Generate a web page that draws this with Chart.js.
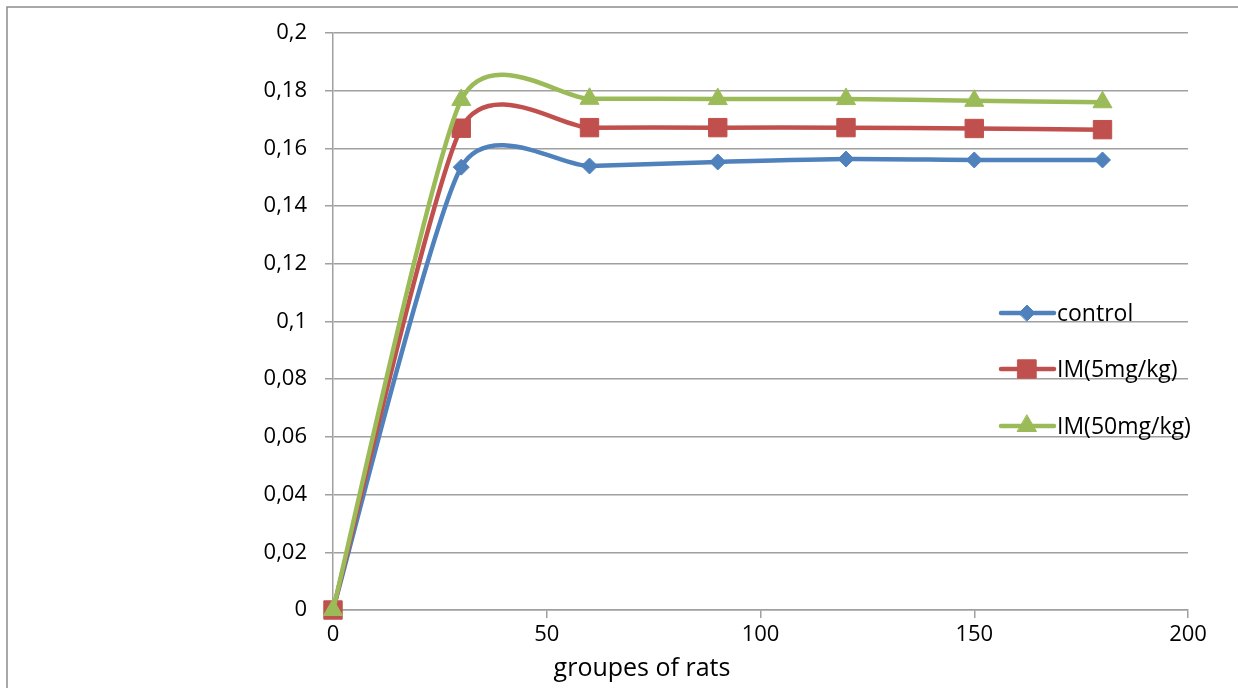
<!DOCTYPE html>
<html>
<head>
<meta charset="utf-8">
<script src="https://cdn.jsdelivr.net/npm/chart.js@4/dist/chart.umd.min.js"></script>
<style>
  html, body { margin: 0; padding: 0; background: #fff; }
  #wrap { width: 1238px; height: 688px; position: relative; }
</style>
</head>
<body>
<div id="wrap"><canvas id="chart" width="1238" height="688"></canvas></div>
<script>
const days = [0, 30, 60, 90, 120, 150, 180];
const control = [0, 0.1535, 0.1539, 0.1553, 0.1563, 0.156, 0.156];
const im5 = [0, 0.167, 0.1672, 0.1672, 0.1672, 0.1669, 0.1665];
const im50 = [0, 0.1768, 0.1772, 0.1771, 0.1771, 0.1765, 0.176];
const seriesNames = ["control", "IM(5mg/kg)", "IM(50mg/kg)"];
const xTitle = "groupes of rats";

const font = "'Open Sans', sans-serif";
const colors = ["#4F81BD", "#C0504D", "#9BBB59"];
const styles = [
  { pointStyle: "rectRot", radius: 8 },
  { pointStyle: "rect", radius: 13 },
  { pointStyle: "triangle", radius: 11 },
];

function points(vals) {
  return days.map((d, i) => ({ x: d, y: vals[i] }));
}

const datasets = [control, im5, im50].map((vals, i) => ({
  label: seriesNames[i],
  data: points(vals),
  order: 2 - i, // later series on top, like excel
  borderColor: colors[i],
  backgroundColor: colors[i],
  borderWidth: 4.5,
  tension: 0.4,
  clip: false,
  pointStyle: styles[i].pointStyle,
  pointRadius: styles[i].radius,
  pointBorderWidth: 1,
  pointBackgroundColor: colors[i],
  pointBorderColor: colors[i],
}));

// Office-style smoothing: uniform catmull-rom tangents instead of chart.js's weighted ones
const smooth = {
  id: "smooth",
  beforeDatasetsDraw(chart) {
    const k = 0.11;
    chart.data.datasets.forEach((ds, di) => {
      const meta = chart.getDatasetMeta(di);
      meta.dataset.updateControlPoints(chart.chartArea, "x");
      const pts = meta.data;
      const n = pts.length;
      for (let i = 0; i < n; i++) {
        const p = pts[i];
        const prev = pts[Math.max(i - 1, 0)];
        const next = pts[Math.min(i + 1, n - 1)];
        const tx = (next.x - prev.x) * k;
        const ty = (next.y - prev.y) * k;
        p.cp1x = p.x - tx;
        p.cp1y = p.y - ty;
        p.cp2x = p.x + tx;
        p.cp2y = p.y + ty;
      }
    });
  },
};

// frame, legend and x title, drawn by hand like the original
const extras = {
  id: "extras",
  beforeDraw(chart) {
    const ctx = chart.ctx;
    ctx.save();
    ctx.strokeStyle = "#8c8c8c";
    ctx.lineWidth = 1.5;
    ctx.beginPath();
    ctx.moveTo(7, 700);
    ctx.lineTo(7, 7);
    ctx.lineTo(1250, 7);
    ctx.stroke();
    ctx.restore();
  },
  afterDatasetsDraw(chart) {
    const ctx = chart.ctx;
    ctx.save();
    const rows = [313, 369, 426];
    seriesNames.forEach((name, i) => {
      const y = rows[i];
      ctx.strokeStyle = colors[i];
      ctx.lineWidth = 4.5;
      ctx.lineCap = "round";
      ctx.beginPath();
      ctx.moveTo(1001, y);
      ctx.lineTo(1054, y);
      ctx.stroke();
      ctx.fillStyle = colors[i];
      ctx.lineWidth = 1;
      Chart.helpers.drawPoint(ctx, {
        pointStyle: styles[i].pointStyle,
        radius: styles[i].radius,
        rotation: 0,
        borderWidth: 1,
      }, 1027, y);
      ctx.fillStyle = "#000";
      ctx.font = "23px " + font;
      ctx.textBaseline = "middle";
      ctx.textAlign = "left";
      ctx.fillText(name, 1057, y + 1);
    });
    ctx.font = "25px " + font;
    ctx.textAlign = "center";
    ctx.textBaseline = "middle";
    ctx.fillStyle = "#000";
    ctx.fillText(xTitle, 642, 669);
    ctx.restore();
  },
};

new Chart(document.getElementById("chart").getContext("2d"), {
  type: "line",
  data: { datasets },
  plugins: [smooth, extras],
  options: {
    responsive: false,
    animation: false,
    layout: { padding: { top: 33, right: 50, left: 0, bottom: 0 } },
    plugins: { legend: { display: false }, tooltip: { enabled: false } },
    scales: {
      x: {
        type: "linear",
        min: 0,
        max: 200,
        ticks: { stepSize: 50, color: "#000", font: { family: font, size: 22 }, padding: 4, maxRotation: 0 },
        grid: { drawOnChartArea: false, drawTicks: true, tickLength: 8, color: "#a0a0a0", lineWidth: 1.5 },
        border: { color: "#a0a0a0", width: 1.5 },
        afterFit(scale) { scale.height = 78; },
      },
      y: {
        min: 0,
        max: 0.2,
        ticks: {
          stepSize: 0.02,
          color: "#000",
          font: { family: font, size: 22 },
          padding: 18,
          callback: (v) => String(Number(v.toFixed(2))).replace(".", ","),
        },
        grid: { color: "#a0a0a0", lineWidth: 1.5, tickLength: 8 },
        border: { color: "#a0a0a0", width: 1.5 },
        afterFit(scale) { scale.width = 333; },
      },
    },
  },
});
</script>
</body>
</html>
